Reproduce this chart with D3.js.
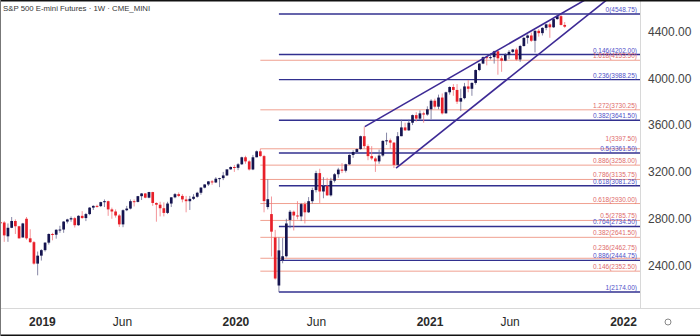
<!DOCTYPE html>
<html>
<head>
<meta charset="utf-8">
<script src="https://cdn.jsdelivr.net/npm/d3@7"></script>
<style>
  html, body { margin: 0; padding: 0; background: #fff; }
  svg { display: block; font-family: "Liberation Sans", Arial, sans-serif; }
</style>
</head>
<body>
<div id="chart"></div>
<script>
// Weekly candles [open, high, low, close], one row per week starting Monday
const firstWeek = '2018-10-15';
const candles2018 = [
  [2770, 2820, 2755, 2768], [2768, 2780, 2603, 2658], [2650, 2760, 2603, 2723], [2723, 2815, 2720, 2781],
  [2781, 2795, 2670, 2736], [2736, 2740, 2630, 2633], [2640, 2765, 2640, 2760], [2800, 2815, 2621, 2633],
  [2633, 2710, 2594, 2600], [2600, 2610, 2408, 2417], [2417, 2520, 2317, 2485], [2485, 2540, 2443, 2532]
];
const candles2019 = [
  [2532, 2600, 2520, 2596], [2596, 2675, 2580, 2670], [2670, 2680, 2616, 2664], [2664, 2710, 2630, 2706],
  [2706, 2740, 2680, 2708], [2708, 2780, 2680, 2776], [2776, 2800, 2760, 2794], [2794, 2820, 2775, 2805],
  [2805, 2816, 2725, 2745], [2745, 2830, 2740, 2825], [2825, 2865, 2800, 2806], [2806, 2850, 2780, 2840],
  [2840, 2900, 2830, 2895], [2895, 2915, 2875, 2910], [2910, 2920, 2895, 2908], [2908, 2945, 2900, 2942],
  [2942, 2965, 2900, 2950], [2950, 2955, 2825, 2880], [2880, 2895, 2800, 2862], [2862, 2880, 2810, 2828],
  [2828, 2840, 2730, 2752], [2752, 2880, 2728, 2873], [2873, 2910, 2865, 2887], [2887, 2965, 2880, 2950],
  [2950, 2965, 2905, 2944], [2944, 2995, 2940, 2993], [2993, 3020, 2960, 3016], [3016, 3020, 2975, 2980],
  [2980, 3030, 2975, 3028], [3028, 3030, 2910, 2935], [2935, 2940, 2775, 2920], [2920, 2945, 2820, 2890],
  [2890, 2940, 2820, 2850], [2850, 2945, 2840, 2930], [2930, 2985, 2900, 2983], [2983, 3020, 2975, 3010],
  [3010, 3025, 2985, 2995], [2995, 3010, 2940, 2965], [2965, 2995, 2855, 2950], [2950, 2995, 2875, 2970],
  [2970, 3010, 2960, 2988], [2988, 3030, 2980, 3022], [3022, 3070, 3005, 3066], [3066, 3095, 3060, 3093],
  [3093, 3122, 3080, 3119], [3119, 3130, 3090, 3110], [3110, 3155, 3105, 3142], [3142, 3150, 3070, 3147],
  [3147, 3200, 3130, 3170], [3170, 3215, 3165, 3222], [3222, 3247, 3218, 3242], [3242, 3260, 3200, 3235]
];
const candles2020 = [
  [3235, 3275, 3215, 3265], [3265, 3330, 3260, 3325], [3325, 3338, 3270, 3290], [3290, 3300, 3212, 3221],
  [3221, 3345, 3215, 3325], [3325, 3383, 3325, 3376], [3376, 3397.5, 3330, 3335], [3335, 3345, 2855, 2951],
  [2900, 3137, 2880, 2967], [2840, 2990, 2478, 2690], [2640, 2705, 2280, 2290], [2230, 2640, 2174, 2530],
  [2445, 2635, 2420, 2480], [2480, 2800, 2470, 2760], [2790, 2875, 2720, 2860], [2860, 2870, 2700, 2828],
  [2828, 2950, 2795, 2820], [2820, 2935, 2780, 2925], [2925, 2945, 2760, 2855], [2855, 2985, 2850, 2950],
  [2950, 3065, 2930, 3045], [3045, 3210, 3025, 3190], [3190, 3227, 2935, 3033], [3033, 3155, 2975, 3080],
  [3080, 3150, 2995, 3000], [3000, 3150, 2990, 3125], [3125, 3190, 3110, 3180], [3180, 3235, 3150, 3220],
  [3220, 3275, 3190, 3210], [3210, 3270, 3195, 3265], [3265, 3350, 3260, 3345], [3345, 3385, 3320, 3370],
  [3370, 3400, 3360, 3395], [3395, 3510, 3390, 3505], [3505, 3587, 3400, 3420], [3420, 3435, 3300, 3335],
  [3335, 3420, 3300, 3315], [3315, 3330, 3200, 3290], [3290, 3390, 3270, 3340], [3340, 3470, 3330, 3465],
  [3465, 3535, 3430, 3470], [3470, 3485, 3400, 3450], [3450, 3455, 3233, 3260], [3260, 3540, 3255, 3505],
  [3505, 3645, 3505, 3580], [3580, 3620, 3550, 3555], [3555, 3645, 3550, 3620], [3620, 3690, 3600, 3685],
  [3685, 3710, 3630, 3655], [3655, 3725, 3640, 3700], [3700, 3715, 3620, 3690], [3690, 3760, 3680, 3735]
];
const candles2021 = [
  [3735, 3820, 3650, 3808], [3808, 3825, 3740, 3757], [3757, 3860, 3735, 3835], [3835, 3870, 3690, 3700],
  [3700, 3885, 3700, 3880], [3880, 3930, 3860, 3925], [3925, 3950, 3850, 3900], [3900, 3950, 3780, 3800],
  [3800, 3910, 3720, 3830], [3830, 3960, 3820, 3930], [3930, 3985, 3880, 3910], [3910, 3965, 3850, 3960],
  [3960, 4075, 3945, 4070], [4070, 4130, 4060, 4125], [4125, 4185, 4120, 4180], [4180, 4190, 4110, 4175],
  [4175, 4215, 4160, 4180], [4180, 4235, 4125, 4230], [4230, 4235, 4030, 4170], [4170, 4190, 4055, 4150],
  [4150, 4215, 4145, 4200], [4200, 4240, 4165, 4225], [4225, 4250, 4215, 4245], [4245, 4260, 4150, 4160],
  [4160, 4285, 4140, 4275], [4275, 4350, 4270, 4345], [4345, 4375, 4295, 4365], [4365, 4390, 4310, 4320],
  [4320, 4410, 4220, 4405], [4405, 4420, 4355, 4385], [4385, 4435, 4365, 4430], [4430, 4465, 4410, 4460],
  [4460, 4475, 4345, 4435], [4435, 4505, 4430, 4505], [4505, 4548.75, 4500, 4530], [4530, 4540, 4450, 4455],
  [4455, 4480, 4430, 4440]
];

// Axes
const priceTicks = [2400, 2800, 3200, 3600, 4000, 4400];
const dateTicks = ['2019-01-01', '2019-06-01', '2020-01-01', '2020-06-01', '2021-01-01', '2021-06-01', '2022-01-01'];
const dateTickLabels = ['2019', 'Jun', '2020', 'Jun', '2021', 'Jun', '2022'];

// Fibonacci retracement (blue) from the Mar 2020 low to the 2021 high
const retraceStart = '2020-03-23';
const retraceRatios = [0, 0.146, 0.236, 0.382, 0.5, 0.618, 0.764, 0.886, 1];
const retracePrices = [4548.75, 4202.00, 3988.25, 3641.50, 3361.50, 3081.25, 2734.50, 2444.75, 2174.00];

// Fibonacci levels (red) on the Feb 2020 high / Mar 2020 low move
const extStart = '2020-02-17';
const extRatios = [1.618, 1.272, 1, 0.886, 0.786, 0.618, 0.5, 0.382, 0.236, 0.146];
const extPrices = [4153.50, 3730.25, 3397.50, 3258.00, 3135.75, 2930.00, 2785.75, 2641.50, 2462.75, 2352.50];
// red labels lifted a little so they clear the blue label just under them
const extRaised = [1, 0.236];

// Rising wedge trendlines: two anchor points each
const wedgeUpper = [['2020-09-01', 3587], ['2021-10-10', 4639]];
const wedgeLower = [['2020-10-30', 3233], ['2021-10-10', 4480]];

const title = 'S&P 500 E-mini Futures · 1W · CME_MINI';

// Layout
const W = 700, H = 336;
const plotW = 640, plotH = 308;
const parse = d3.utcParse('%Y-%m-%d');

const rows = [...candles2018, ...candles2019, ...candles2020, ...candles2021];
const weeks = d3.utcMonday.range(parse(firstWeek), d3.utcMonday.offset(parse(firstWeek), rows.length));
const candles = rows.map((r, i) => ({ date: weeks[i], o: r[0], h: r[1], l: r[2], c: r[3] }));

const x = d3.scaleUtc().domain([parse('2018-10-14'), parse('2022-02-02')]).range([0, plotW]);
const y = d3.scaleLinear().domain([2038, 4668]).range([plotH, 0]);

const svg = d3.select('#chart').append('svg').attr('width', W).attr('height', H);

svg.append('defs').append('clipPath').attr('id', 'plotClip')
  .append('rect').attr('x', 0).attr('y', 0).attr('width', plotW).attr('height', plotH);

const plot = svg.append('g').attr('clip-path', 'url(#plotClip)');

// Red fib lines
const redColor = '#f0a090', blueColor = '#32308f';
plot.append('g').selectAll('line')
  .data(extPrices).join('line')
  .attr('x1', x(parse(extStart))).attr('x2', plotW)
  .attr('y1', d => y(d)).attr('y2', d => y(d))
  .attr('stroke', redColor).attr('stroke-width', 1);

// Blue fib lines
plot.append('g').selectAll('line')
  .data(retracePrices).join('line')
  .attr('x1', x(parse(retraceStart))).attr('x2', plotW)
  .attr('y1', d => y(d)).attr('y2', d => y(d))
  .attr('stroke', blueColor).attr('stroke-width', 1.4);

// Candles
const upColor = '#15144f', downColor = '#e8202a';
const bw = 2.7;
const cg = plot.append('g');
cg.selectAll('line')
  .data(candles).join('line')
  .attr('x1', d => x(d.date)).attr('x2', d => x(d.date))
  .attr('y1', d => y(d.h)).attr('y2', d => y(d.l))
  .attr('stroke', d => d.c >= d.o ? '#6a6a90' : '#f07a80').attr('stroke-width', 0.8);
cg.selectAll('rect')
  .data(candles).join('rect')
  .attr('x', d => x(d.date) - bw / 2).attr('width', bw)
  .attr('y', d => y(Math.max(d.o, d.c)))
  .attr('height', d => Math.max(1, Math.abs(y(d.o) - y(d.c))))
  .attr('fill', d => d.c >= d.o ? upColor : downColor);

// Wedge trendlines, extended to the right edge
function ray(pts) {
  const x1 = x(parse(pts[0][0])), y1 = y(pts[0][1]);
  const x2 = x(parse(pts[1][0])), y2 = y(pts[1][1]);
  const k = (y2 - y1) / (x2 - x1);
  return [x1, y1, plotW + 40, y1 + k * (plotW + 40 - x1)];
}
plot.append('g').selectAll('line')
  .data([wedgeUpper, wedgeLower].map(ray)).join('line')
  .attr('x1', d => d[0]).attr('y1', d => d[1]).attr('x2', d => d[2]).attr('y2', d => d[3])
  .attr('stroke', '#3d2a95').attr('stroke-width', 1.6);

// Fib labels
const fibText = svg.append('g').attr('font-size', 6.5).attr('text-anchor', 'end');
fibText.selectAll('text.red')
  .data(extPrices).join('text').attr('class', 'red')
  .attr('x', plotW - 3)
  .attr('y', (d, i) => extRaised.includes(extRatios[i]) ? y(d) - 8 : y(d) - 2)
  .attr('fill', '#e06a6a')
  .text((d, i) => `${extRatios[i]}(${d.toFixed(2)})`);
fibText.selectAll('text.blue')
  .data(retracePrices).join('text').attr('class', 'blue')
  .attr('x', plotW - 3).attr('y', d => y(d) - 2)
  .attr('fill', '#5050c8')
  .text((d, i) => `${retraceRatios[i]}(${d.toFixed(2)})`);

// Frame
svg.append('line').attr('x1', plotW + 0.5).attr('x2', plotW + 0.5).attr('y1', 0).attr('y2', plotH)
  .attr('stroke', '#d8d8d8');
svg.append('line').attr('x1', 0).attr('x2', W).attr('y1', plotH + 0.5).attr('y2', plotH + 0.5)
  .attr('stroke', '#d8d8d8');
svg.append('rect').attr('x', 0).attr('y', 0).attr('width', W).attr('height', 1.5).attr('fill', '#111');
svg.append('rect').attr('x', 0).attr('y', H - 1.5).attr('width', W).attr('height', 1.5).attr('fill', '#111');
svg.append('rect').attr('x', 0).attr('y', 0).attr('width', 1).attr('height', H).attr('fill', '#777');

// Price axis
const yAxis = svg.append('g').attr('transform', `translate(${plotW},0)`)
  .call(d3.axisRight(y).tickValues(priceTicks).tickSize(0).tickPadding(8).tickFormat(d3.format('.2f')));
yAxis.select('.domain').remove();
yAxis.selectAll('text').attr('font-size', 12).attr('fill', '#444').attr('font-family', '"Liberation Sans", Arial, sans-serif');

// Time axis
const xAxis = svg.append('g').attr('transform', `translate(0,${plotH})`)
  .call(d3.axisBottom(x).tickValues(dateTicks.map(parse)).tickSize(0).tickPadding(9)
    .tickFormat((d, i) => dateTickLabels[i]));
xAxis.select('.domain').remove();
xAxis.selectAll('text')
  .attr('font-size', 12).attr('fill', '#2a2a2a')
  .attr('font-family', '"Liberation Sans", Arial, sans-serif')
  .attr('font-weight', (d, i) => dateTickLabels[i] === 'Jun' ? 'normal' : 'bold');

// Settings icon
svg.append('circle').attr('cx', 668).attr('cy', 322).attr('r', 3)
  .attr('fill', 'none').attr('stroke', '#888').attr('stroke-width', 1);

// Title
svg.append('text').attr('x', 3).attr('y', 11).attr('font-size', 7.8).attr('fill', '#333')
  .text(title);
</script>
</body>
</html>
